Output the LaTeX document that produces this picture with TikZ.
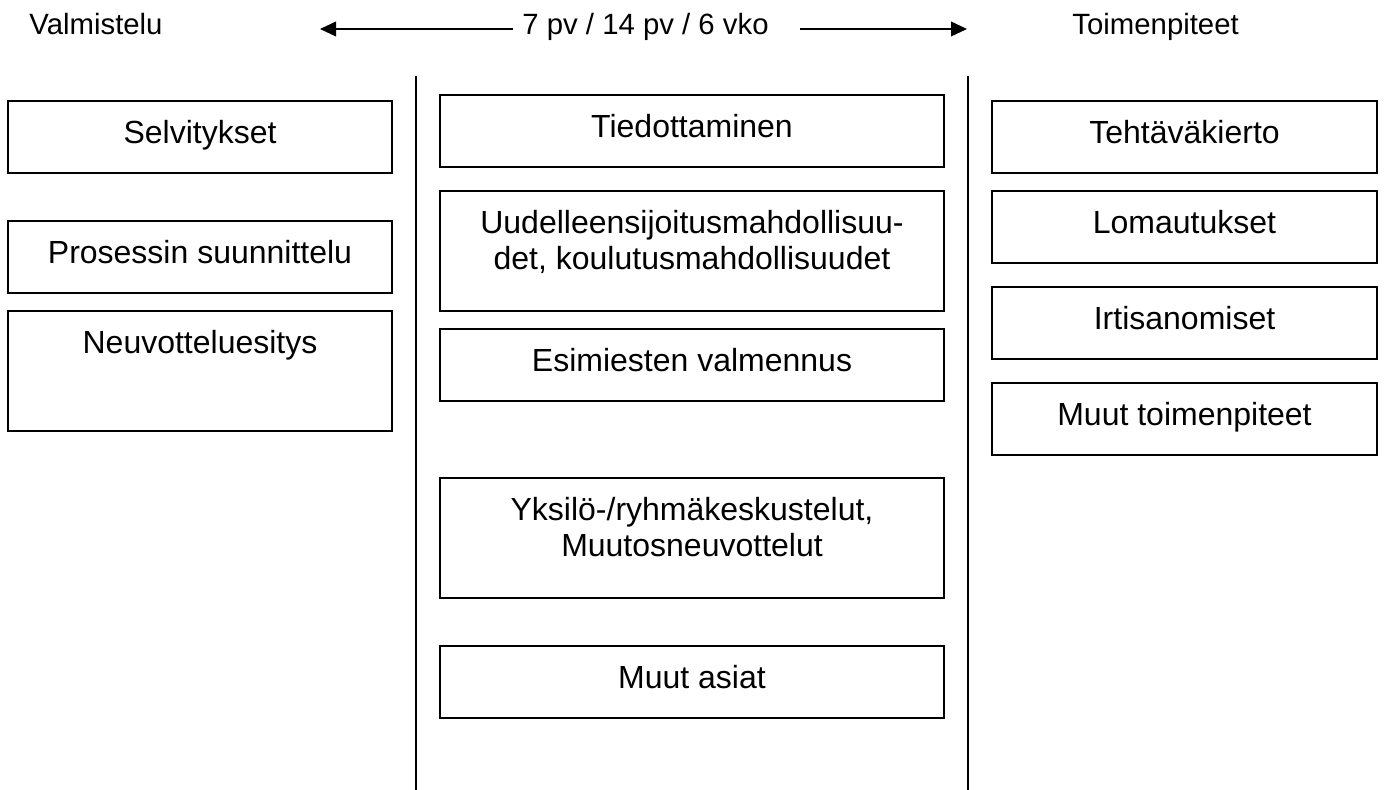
\documentclass[tikz,border=0pt]{standalone}
\usepackage{fontspec}
\setmainfont{Liberation Sans}
\usetikzlibrary{arrows.meta}

\begin{document}
\begin{tikzpicture}[x=0.375pt, y=-0.375pt,
  box/.style={draw, line width=0.9pt, inner sep=0pt, anchor=north, align=center,
    font=\fontsize{12}{13.5}\selectfont, text height=15.75pt, text depth=11.25pt},
  tall/.style={text depth=29.25pt},
  twoline/.style={text height=29.25pt, text depth=15.75pt},
  lcol/.style={box, minimum width=144pt},
  mcol/.style={box, minimum width=189pt},
  rcol/.style={box, minimum width=144.4pt},
  head/.style={font=\fontsize{11}{13}\selectfont, anchor=base},
  arr/.style={-{Triangle[length=6pt,width=5.5pt]}, line width=0.6pt},
  sep/.style={line width=0.75pt}]
\useasboundingbox (0,0) rectangle (1384,790);

% header
\node[head, anchor=base west] (valm) at (20,35) {Valmistelu};
\node[head] (kesto) at (645.5,35) {7 pv / 14 pv / 6 vko};
\node[head, anchor=base west] (toim) at (1063,35) {Toimenpiteet};
\coordinate (ltip) at (320,29);
\coordinate (rtip) at (967,29);
\draw[arr] (kesto.west |- ltip) -- (ltip);
\draw[arr] ([xshift=8.25pt]kesto.east |- rtip) -- (rtip);

\draw[sep] (416,76) -- (416,790);
\draw[sep] (968,76) -- (968,790);

% Valmistelu
\node[lcol] (selv) at (200,100) {Selvitykset};
\node[lcol] (pros) at (200,220) {Prosessin suunnittelu};
\node[lcol, tall] (neuv) at (200,310) {Neuvotteluesitys};

% 7 pv / 14 pv / 6 vko
\node[mcol] (tied) at (692,94) {Tiedottaminen};
\node[mcol, twoline] (uud) at (692,190) {Uudelleensijoitusmahdollisuu-\\det, koulutusmahdollisuudet};
\node[mcol] (esim) at (692,328) {Esimiesten valmennus};
\node[mcol, twoline] (yks) at (692,477) {Yksilö-/ryhmäkeskustelut,\\Muutosneuvottelut};
\node[mcol] (muut) at (692,645) {Muut asiat};

% Toimenpiteet
\node[rcol] (teht) at (1184.5,100) {Tehtäväkierto};
\node[rcol] (loma) at (1184.5,190) {Lomautukset};
\node[rcol] (irti) at (1184.5,286) {Irtisanomiset};
\node[rcol] (mtoim) at (1184.5,382) {Muut toimenpiteet};
\end{tikzpicture}
\end{document}
